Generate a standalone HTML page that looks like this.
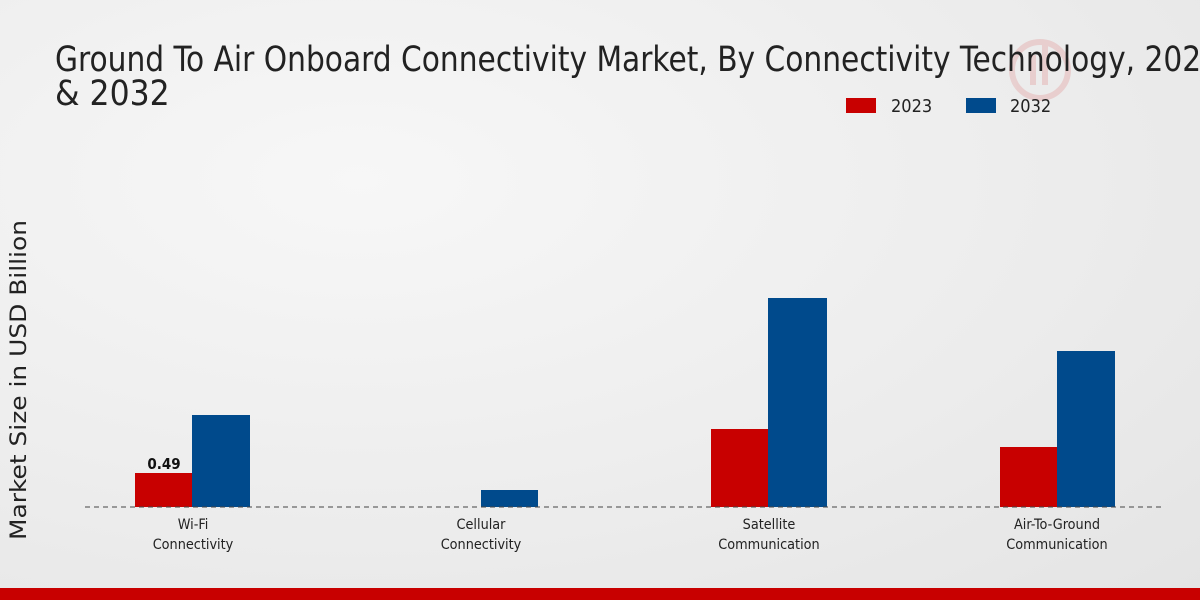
<!DOCTYPE html>
<html><head><meta charset="utf-8"><style>
html,body{margin:0;padding:0;}
body{width:1200px;height:600px;overflow:hidden;background:radial-gradient(ellipse at 30% 30%,#f7f7f7 0%,#ececec 60%,#e4e4e4 100%);font-family:"DejaVu Sans Condensed","DejaVu Sans","Liberation Sans",sans-serif;position:relative;}
</style></head><body>
<svg width="1200" height="600" style="position:absolute;left:0;top:0" font-family="DejaVu Sans Condensed, DejaVu Sans, Liberation Sans, sans-serif">
<g opacity="0.12"><circle cx="1040" cy="70" r="28" fill="none" stroke="#c00" stroke-width="6"/><rect x="1030" y="55" width="6" height="30" fill="#c00"/><rect x="1042" y="45" width="6" height="40" fill="#c00"/></g>
<text x="55" y="71" font-size="35" fill="#222" textLength="1165" lengthAdjust="spacingAndGlyphs">Ground To Air Onboard Connectivity Market, By Connectivity Technology, 2023</text>
<text x="55" y="105" font-size="35" fill="#222">&amp; 2032</text>
<rect x="846" y="98" width="30" height="15" fill="#c80000"/>
<text x="891" y="112" font-size="18" fill="#222">2023</text>
<rect x="966" y="98" width="30" height="15" fill="#004a8c"/>
<text x="1010" y="112" font-size="18" fill="#222">2032</text>
<text transform="translate(26,380) rotate(-90)" text-anchor="middle" font-size="22" fill="#222" font-family="DejaVu Sans, sans-serif" textLength="320" lengthAdjust="spacingAndGlyphs">Market Size in USD Billion</text>
<rect x="135" y="473" width="57" height="34" fill="#c80000"/>
<rect x="192" y="415" width="58" height="92" fill="#004a8c"/>
<rect x="481" y="490" width="57" height="17" fill="#004a8c"/>
<rect x="711" y="429" width="57" height="78" fill="#c80000"/>
<rect x="768" y="298" width="59" height="209" fill="#004a8c"/>
<rect x="1000" y="447" width="57" height="60" fill="#c80000"/>
<rect x="1057" y="351" width="58" height="156" fill="#004a8c"/>
<line x1="85" y1="507" x2="1165" y2="507" stroke="#444" stroke-width="1" stroke-dasharray="5,4"/>
<text x="164" y="469" text-anchor="middle" font-size="15" font-weight="bold" fill="#111">0.49</text>
<g font-size="14.3" fill="#222" text-anchor="middle">
<text x="193" y="529">Wi-Fi</text><text x="193" y="549">Connectivity</text>
<text x="481" y="529">Cellular</text><text x="481" y="549">Connectivity</text>
<text x="769" y="529">Satellite</text><text x="769" y="549">Communication</text>
<text x="1057" y="529">Air-To-Ground</text><text x="1057" y="549">Communication</text>
</g>
<rect x="0" y="588" width="1200" height="12" fill="#c80000"/>
</svg>
</body></html>
